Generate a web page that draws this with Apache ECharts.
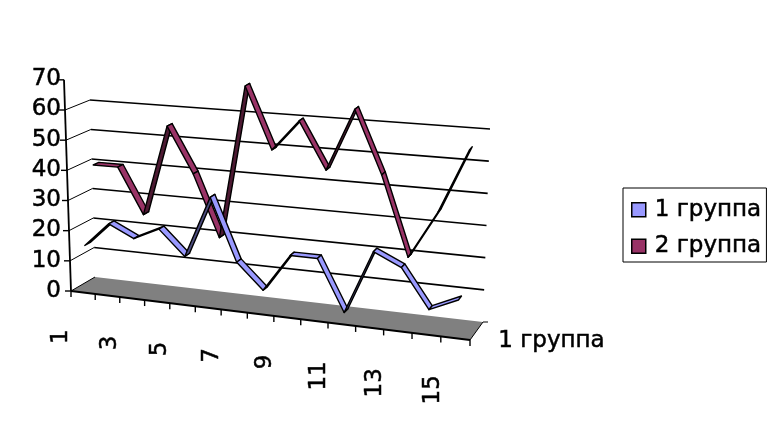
<!DOCTYPE html>
<html><head><meta charset="utf-8">
<style>html,body{margin:0;padding:0;background:#fff}#c{width:779px;height:448px}</style>
<script src="https://cdn.jsdelivr.net/npm/echarts@6/dist/echarts.min.js"></script>
</head><body><div id="c"></div>
<script>
const categories = ['1','2','3','4','5','6','7','8','9','10','11','12','13','14','15'];
const group1 = [15,23,19,23,15,35,15,7,19,19,3,23,19,7,11];
const group2 = [40,40,25,55,40,20,70,50,60,45,65,45,20,35,55];
const gridValues = [10,20,30,40,50,60];
const axisTicks = [0,10,20,30,40,50,60,70];
const name1 = '1 группа', name2 = '2 группа', depthLabel = '1 группа';
const FONT = '23px "DejaVu Sans"';
const HEAVY = {textBorderColor:'#000',textBorderWidth:0.5};

// Plot rectangle of the flat cartesian system, then its oblique 3D projection
const G = {left:62, top:79, width:408, height:212};
const K = 1.105, V_REF = 60, V_MAX = 70;
const C = { // corners: [f]ront/[b]ack, [l]eft/[r]ight, 0 / ref value
  fl0:[71,291], fl1:[65,110], fr0:[470,340], fr1:[478,143],
  bl0:[95,277], bl1:[90,100], br0:[483,322], br1:[490,129]
};
const lerp=(a,b,t)=>[a[0]+(b[0]-a[0])*t,a[1]+(b[1]-a[1])*t];
function proj(p,w){
  const s=(p[0]-G.left)/G.width;
  const t=(G.top+G.height-p[1])/G.height*V_MAX/V_REF;
  const f=s<=0?0:s/(s+K*(1-s));
  const a=lerp(lerp(C.fl0,C.fr0,f),lerp(C.bl0,C.br0,f),w);
  const b=lerp(lerp(C.fl1,C.fr1,f),lerp(C.bl1,C.br1,f),w);
  return lerp(a,b,t);
}
const line=(a,b,lw)=>({type:'line',silent:true,shape:{x1:a[0],y1:a[1],x2:b[0],y2:b[1]},style:{stroke:'#000',lineWidth:lw}});

function frame(params,api){
  const band=api.size([1,0])[0], ch=[];
  const edge=i=>{const c=api.coord([Math.min(i,categories.length-1),0]);return [c[0]+(i<categories.length?-band/2:band/2),c[1]];};
  const end=edge(categories.length), start=edge(0);
  // floor
  ch.push({type:'polygon',silent:true,shape:{points:[proj(start,0),proj(end,0),proj(end,1),proj(start,1)]},style:{fill:'#808080'}});
  // wall grid lines
  gridValues.forEach(v=>{
    const y=api.coord([0,v])[1];
    const a=[start[0],y], b=[end[0],y];
    ch.push(line(proj(a,0),proj(a,1),1));
    ch.push(line(proj(a,1),proj(b,1),1.6));
  });
  ch.push(line(proj(start,0),proj(start,1),1));
  // value axis
  const topP=proj([start[0],api.coord([0,V_MAX])[1]],0);
  ch.push(line(proj(start,0),topP,1.8));
  axisTicks.forEach(v=>{
    const q=proj([start[0],api.coord([0,v])[1]],0);
    ch.push(line([q[0]-6,q[1]],q,1.4));
  });
  // category axis
  ch.push(line(proj(start,0),proj(end,0),2.2));
  for(let i=0;i<=categories.length;i++){
    const q=proj(edge(i),0);
    ch.push(line(q,[q[0],q[1]+6],1.4));
  }
  // depth axis
  const fr=proj(end,0), br=proj(end,1);
  ch.push(line(fr,br,1));
  ch.push(line(br,[br[0]+5,br[1]],1));
  // category labels
  categories.forEach((c,i)=>{
    if(i%2) return;
    const q=proj(api.coord([i,0]),0);
    ch.push({type:'text',silent:true,x:q[0]-22.5,y:q[1]+37,rotation:Math.PI/2,
      style:{text:c,align:'right',verticalAlign:'middle',font:FONT,fill:'#000',stroke:'#000',lineWidth:0.5}});
  });
  return {type:'group',children:ch};
}

function ribbon(values,w0,w1,fill,dark){
  return function(params,api){
    const i=api.value(0);
    if(i>=values.length-1) return null;
    const p=api.coord([i,values[i]]), n=api.coord([i+1,values[i+1]]);
    const A=proj(p,w0),B=proj(n,w0),Cc=proj(n,w1),D=proj(p,w1);
    const cross=(B[0]-A[0])*(D[1]-A[1])-(B[1]-A[1])*(D[0]-A[0]);
    return {type:'polygon',shape:{points:[A,B,Cc,D]},
      style:{fill:cross>0?dark:fill,stroke:'#000',lineWidth:1.4,lineJoin:'round'}};
  };
}
const pts=a=>a.map((v,i)=>[i,v]);

const chart=echarts.init(document.getElementById('c'),null,{renderer:'canvas'});
chart.setOption({
  animation:false,
  backgroundColor:'#fff',
  grid:Object.assign({containLabel:false},G),
  xAxis:{type:'category',data:categories,show:false},
  yAxis:{type:'value',min:0,max:V_MAX,interval:10,splitLine:{show:false},axisLine:{show:false},axisTick:{show:false},
    axisLabel:Object.assign({margin:1,align:'right',fontSize:23,fontFamily:'DejaVu Sans',color:'#000',verticalAlign:'middle',lineHeight:23,padding:[6,0,0,0]},HEAVY)},
  legend:{orient:'vertical',left:623,top:188,padding:[10,5,4,8],itemWidth:14,itemHeight:14,itemGap:13,itemStyle:{borderColor:'#000',borderWidth:1.5},
    borderColor:'#000',borderWidth:1,backgroundColor:'#fff',icon:'rect',
    textStyle:Object.assign({fontSize:23,fontFamily:'DejaVu Sans',color:'#000',padding:[0,0,0,4]},HEAVY),
    data:[name1,name2],selectedMode:false},
  graphic:[{type:'text',left:498,top:329,silent:true,style:{text:depthLabel,font:FONT,fill:'#000',stroke:'#000',lineWidth:0.5}}],
  series:[
    {type:'custom',name:'frame',z:1,silent:true,renderItem:frame,data:[[0,0]],encode:{x:0,y:1}},
    {type:'custom',name:name2,z:2,silent:true,renderItem:ribbon(group2,0.57,0.8,'#993366','#4d1a33'),itemStyle:{color:'#993366'},data:pts(group2),encode:{x:0,y:1}},
    {type:'custom',name:name1,z:3,silent:true,renderItem:ribbon(group1,0.13,0.36,'#9999ff','#4d4d80'),itemStyle:{color:'#9999ff'},data:pts(group1),encode:{x:0,y:1}}
  ]
});
</script></body></html>
